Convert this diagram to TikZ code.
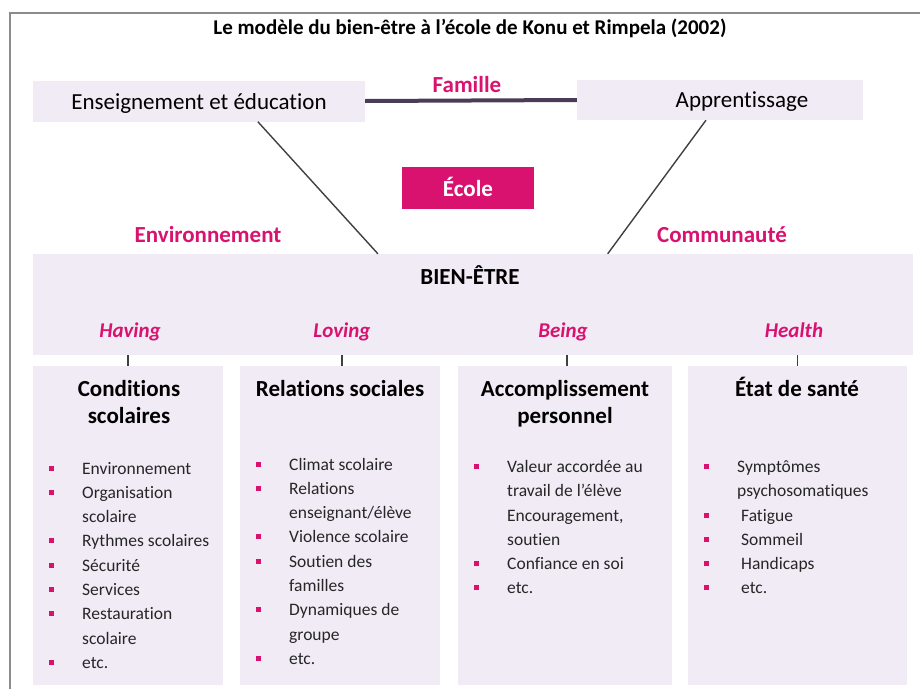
\documentclass[tikz,border=0pt]{standalone}
\usepackage{fontspec}
\setmainfont[Ligatures=NoCommon]{Carlito}
\usetikzlibrary{calc}
\definecolor{lav}{HTML}{F1EBF6}
\definecolor{mag}{HTML}{D9126F}
\definecolor{famline}{HTML}{4A3B57}
\definecolor{frame}{HTML}{8C8C8C}
\tikzset{
  box/.style={fill=lav, draw=none, inner sep=0pt},
  pink/.style={text=mag, font=\fontsize{23}{26}\selectfont\bfseries, inner sep=0pt, anchor=base},
  dim/.style={text=mag, font=\fontsize{21}{24}\selectfont\bfseries\itshape, inner sep=0pt, anchor=base},
  head/.style={font=\fontsize{23}{27}\selectfont\bfseries, align=center, anchor=base, inner sep=0pt},
  item/.style={font=\fontsize{17.5}{20}\selectfont, anchor=base west, inner sep=0pt, text=black!85},
  bul/.style={fill=mag, draw=none, minimum size=5pt, inner sep=0pt},
  tick/.style={draw=black!75, line width=1.6pt},
  diag/.style={draw=black!75, line width=1.4pt}
}
\begin{document}
\begin{tikzpicture}[x=1pt,y=-1pt]
\useasboundingbox (0,0) rectangle (920,688);
% frame
\draw[frame, line width=2pt] (10,690) -- (10,12.5) -- (922,12.5);
% title
\node[font=\fontsize{21}{24}\selectfont\bfseries, inner sep=0pt, anchor=base] (title) at (470,34) {Le modèle du bien-être à l’école de Konu et Rimpela (2002)};
% top boxes
\node[box, minimum width=332pt, minimum height=41pt] (ens) at (199,101) {};
\node[font=\fontsize{23}{26}\selectfont, inner sep=0pt, anchor=base] (enst) at (199,109) {Enseignement et éducation};
\node[box, minimum width=286pt, minimum height=40pt] (app) at (720,100) {};
\node[font=\fontsize{23}{26}\selectfont, inner sep=0pt, anchor=base] (appt) at (742,107) {Apprentissage};
\draw[famline, line width=4pt] (ens.east) -- (app.west);
\node[pink] (fam) at (467,92) {Famille};
% ecole
\node[fill=mag, minimum width=132pt, minimum height=42pt, inner sep=0pt] (ecole) at (468,188) {};
\node[text=white, font=\fontsize{23}{26}\selectfont\bfseries, inner sep=0pt, anchor=base] (ecolet) at (468,196) {École};
% bien-etre
\node[box, minimum width=880pt, minimum height=101pt] (bien) at (473,304.5) {};
\node[font=\fontsize{23}{26}\selectfont\bfseries, inner sep=0pt, anchor=base] (bt) at (470,284.5) {BIEN-ÊTRE};
\node[pink] (envi) at (208,242) {Environnement};
\node[pink] (comm) at (722,242) {Communauté};
\draw[diag] ($(ens.south west)!0.677!(ens.south east)$) -- ($(bien.north west)!0.392!(bien.north east)$);
\draw[diag] ($(app.south west)!0.451!(app.south east)$) -- ($(bien.north west)!0.653!(bien.north east)$);
\node[dim] (hav) at (130,337) {Having};
\node[dim] (lov) at (342,337) {Loving};
\node[dim] (bei) at (563,337) {Being};
\node[dim] (hea) at (794,337) {Health};
% bottom boxes
\node[box, minimum width=190pt, minimum height=319pt] (c1) at (128,525.5) {};
\node[box, minimum width=200pt, minimum height=319pt] (c2) at (340,525.5) {};
\node[box, minimum width=214pt, minimum height=319pt] (c3) at (565,525.5) {};
\node[box, minimum width=219pt, minimum height=319pt] (c4) at (797.5,525.5) {};
\draw[tick] (c1.north) -- (c1.north |- bien.south);
\draw[tick] ($(c2.north)+(2,0)$) -- ($(c2.north |- bien.south)+(2,0)$);
\draw[tick] ($(c3.north)+(2,0)$) -- ($(c3.north |- bien.south)+(2,0)$);
\draw[tick] (c4.north) -- (c4.north |- bien.south);
\node[head] (h1) at (129,396.5) {Conditions};
\node[head] (h1b) at (129,423.5) {scolaires};
\node[head] (h2) at (340,396.5) {Relations sociales};
\node[head] (h3) at (565,396.5) {Accomplissement};
\node[head] (h3b) at (565,423.5) {personnel};
\node[head] (h4) at (797,396.5) {État de santé};
% list 1
\foreach \y in {468,492,540,565,589,613,662} \node[bul] at (51,\y) {};
\node[item] (a1) at (82,474) {Environnement};
\node[item] (a2) at (82,498) {Organisation};
\node[item] (a3) at (82,522) {scolaire};
\node[item] (a4) at (82,546) {Rythmes scolaires};
\node[item] (a5) at (82,571) {Sécurité};
\node[item] (a6) at (82,595) {Services};
\node[item] (a7) at (82,619) {Restauration};
\node[item] (a8) at (82,644) {scolaire};
\node[item] (a9) at (82,668) {etc.};
% list 2
\foreach \y in {464,488,536,561,609,658} \node[bul] at (258,\y) {};
\node[item] (b1) at (289,470) {Climat scolaire};
\node[item] (b2) at (289,494) {Relations};
\node[item] (b3) at (289,518) {enseignant/élève};
\node[item] (b4) at (289,542) {Violence scolaire};
\node[item] (b5) at (289,567) {Soutien des};
\node[item] (b6) at (289,591) {familles};
\node[item] (b7) at (289,615) {Dynamiques de};
\node[item] (b8) at (289,640) {groupe};
\node[item] (b9) at (289,664) {etc.};
% list 3
\foreach \y in {466,563,587} \node[bul] at (476,\y) {};
\node[item] (d1) at (507,472) {Valeur accordée au};
\node[item] (d2) at (507,496) {travail de l’élève};
\node[item] (d3) at (507,521) {Encouragement,};
\node[item] (d4) at (507,545) {soutien};
\node[item] (d5) at (507,569) {Confiance en soi};
\node[item] (d6) at (507,593) {etc.};
% list 4
\foreach \y in {466,515,539,563,587} \node[bul] at (706,\y) {};
\node[item] (e1) at (737,472) {Symptômes};
\node[item] (e2) at (737,496) {psychosomatiques};
\node[item] (e3) at (741,521) {Fatigue};
\node[item] (e4) at (741,545) {Sommeil};
\node[item] (e5) at (741,569) {Handicaps};
\node[item] (e6) at (741,593) {etc.};
\end{tikzpicture}
\end{document}
